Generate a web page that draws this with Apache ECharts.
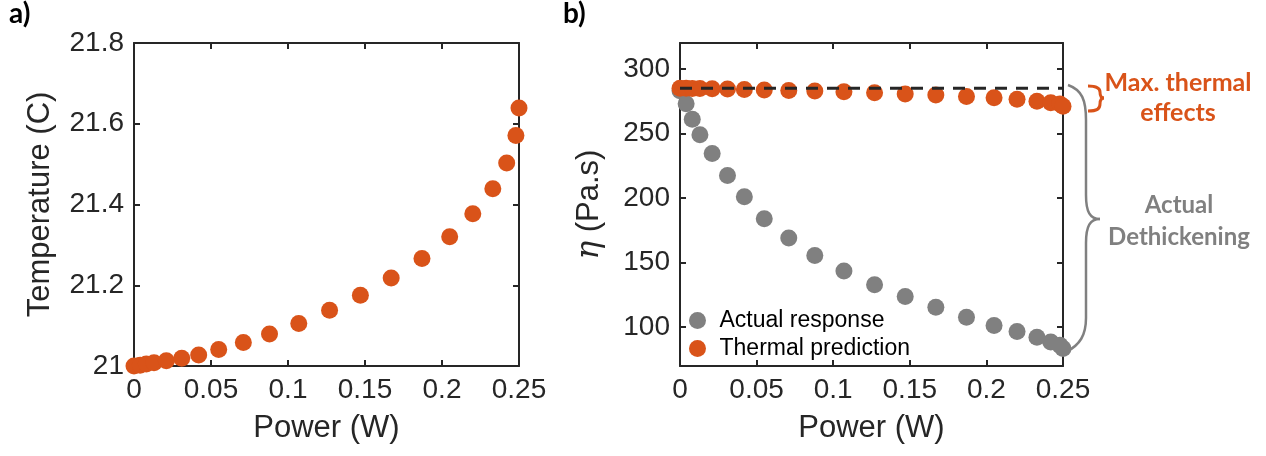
<!DOCTYPE html>
<html>
<head>
<meta charset="utf-8">
<script src="https://cdn.jsdelivr.net/npm/echarts@6.0.0/dist/echarts.min.js"></script>
<style>
  html, body { margin: 0; padding: 0; background: #fff; }
  #chart { width: 1266px; height: 456px; }
</style>
</head>
<body>
<div id="chart"></div>
<script>
// power steps shared by both panels (W)
const power = [0, 0.004, 0.008, 0.013, 0.021, 0.031, 0.042, 0.055, 0.071, 0.088, 0.107,
               0.127, 0.147, 0.167, 0.187, 0.205, 0.220, 0.233, 0.242, 0.248, 0.250];
// a) temperature (C)
const temperature = [21.0, 21.002, 21.005, 21.008, 21.013, 21.019, 21.027, 21.041, 21.058, 21.079, 21.105,
                     21.138, 21.175, 21.218, 21.266, 21.320, 21.377, 21.439, 21.503, 21.571, 21.639];
// b) viscosity (Pa.s)
const actualResponse = [283, 273, 261, 249, 234.5, 217.5, 201, 184, 169, 155.6, 143.6,
                        132.8, 123.8, 115.4, 107.7, 101.3, 96.7, 92.3, 88.5, 86, 83.5];
const thermalPrediction = [285, 284.9, 284.8, 284.7, 284.6, 284.4, 284.0, 283.6, 283.3, 282.8, 282.3,
                           281.5, 280.6, 279.7, 278.6, 277.6, 276.5, 275.0, 273.8, 272.8, 271.0];
const baselineVisc = 285;
const legendNames = ['Actual response', 'Thermal prediction'];
const powerTicks = [0, 0.05, 0.1, 0.15, 0.2, 0.25];
const tempTicks = [21, 21.2, 21.4, 21.6, 21.8];
const viscTicks = [100, 150, 200, 250, 300];

const ORANGE = '#D95319', GREY = '#808080', INK = '#262626';
const FONT = '"Liberation Sans", Arial, sans-serif';

const zip = (xs, ys) => xs.map((x, i) => [x, ys[i]]);

// common axis look: boxed, ticks inside
function axis(opts) {
    const mirror = opts.mirror;
    return Object.assign({
        type: 'value',
        axisLine: {show: true, onZero: false, lineStyle: {color: INK, width: 2}},
        axisTick: {show: true, inside: true, length: 6, lineStyle: {color: INK, width: 2},
                   customValues: opts.ticks},
        axisLabel: {show: !mirror, color: INK, fontSize: 28, fontFamily: FONT, margin: 10,
                    customValues: opts.ticks},
        splitLine: {show: false},
        nameTextStyle: {color: INK, fontSize: 31, fontFamily: FONT}
    }, opts.extra);
}

function xPair(gridIndex, name) {
    const base = {min: 0, max: 0.25, gridIndex: gridIndex};
    return [
        axis({ticks: powerTicks, extra: Object.assign({position: 'bottom', name: name,
            nameLocation: 'middle', nameGap: 47}, base)}),
        axis({ticks: powerTicks, mirror: true, extra: Object.assign({position: 'top'}, base)})
    ];
}

function yPair(gridIndex, min, max, ticks, name, gap, rich) {
    const base = {min: min, max: max, gridIndex: gridIndex};
    const nameStyle = {color: INK, fontSize: 31, fontFamily: FONT};
    if (rich) nameStyle.rich = rich;
    return [
        axis({ticks: ticks, extra: Object.assign({position: 'left', name: name, nameLocation: 'middle',
            nameGap: gap, nameRotate: 90, nameTextStyle: nameStyle}, base)}),
        axis({ticks: ticks, mirror: true, extra: Object.assign({position: 'right'}, base)})
    ];
}

// curly brace built from cubic segments: [x1,y1, cx1,cy1, cx2,cy2, x2,y2]
function brace(segs, color, width) {
    return segs.map(s => ({
        type: 'bezierCurve',
        shape: {x1: s[0], y1: s[1], cpx1: s[2], cpy1: s[3], cpx2: s[4], cpy2: s[5], x2: s[6], y2: s[7]},
        style: {fill: null, stroke: color, lineWidth: width}
    }));
}

function label(text, x, y, color, size) {
    return {type: 'text', x: x, y: y, style: {text: text, fontSize: size || 25, fontWeight: 'bold',
        fontFamily: 'Lato, sans-serif', fill: color, align: 'center', verticalAlign: 'middle'}};
}

const chart = echarts.init(document.getElementById('chart'), null, {renderer: 'canvas'});

chart.setOption({
    animation: false,
    backgroundColor: '#fff',
    grid: [
        {left: 134, top: 43, width: 385, height: 323},
        {left: 680, top: 43, width: 383, height: 323}
    ],
    xAxis: xPair(0, 'Power (W)').concat(xPair(1, 'Power (W)')),
    yAxis: yPair(0, 21, 21.8, tempTicks, 'Temperature (C)', 78)
        .concat(yPair(1, 70, 320, viscTicks, '{eta|η} (Pa.s)', 75, {
            eta: {fontFamily: '"DejaVu Serif", serif', fontStyle: 'italic', fontSize: 31, color: INK}
        })),
    legend: {
        data: legendNames,
        orient: 'vertical',
        left: 684,
        top: 304,
        itemWidth: 34,
        itemHeight: 17,
        itemGap: 5,
        icon: 'circle',
        textStyle: {color: '#000', fontSize: 23, fontFamily: FONT}
    },
    series: [
        {
            type: 'scatter', xAxisIndex: 0, yAxisIndex: 0,
            data: zip(power, temperature),
            symbolSize: 17, itemStyle: {color: ORANGE, opacity: 1}
        },
        {
            name: legendNames[0], type: 'scatter', xAxisIndex: 2, yAxisIndex: 2,
            data: zip(power, actualResponse),
            symbolSize: 17, itemStyle: {color: GREY, opacity: 1}
        },
        {
            name: legendNames[1], type: 'scatter', xAxisIndex: 2, yAxisIndex: 2,
            data: zip(power, thermalPrediction),
            symbolSize: 17, itemStyle: {color: ORANGE, opacity: 1}
        },
        {
            type: 'line', xAxisIndex: 2, yAxisIndex: 2, z: 5,
            data: [[0, baselineVisc], [0.25, baselineVisc]],
            symbol: 'none',
            lineStyle: {color: INK, width: 3, type: [12, 9]}
        }
    ],
    graphic: [
        {type: 'text', left: 9, top: 0, style: {text: 'a)', fontSize: 28, fontWeight: 'bold', fontFamily: 'Lato, sans-serif', fill: '#000'}},
        {type: 'text', left: 563, top: 0, style: {text: 'b)', fontSize: 28, fontWeight: 'bold', fontFamily: 'Lato, sans-serif', fill: '#000'}},
        label('Max. thermal', 1178, 83, ORANGE),
        label('effects', 1178, 113, ORANGE),
        label('Actual', 1179, 205, GREY, 24),
        label('Dethickening', 1179, 237, GREY, 24)
    ].concat(
        brace([
            [1088, 86, 1097, 86, 1100, 88, 1100, 92],
            [1100, 92, 1100, 96, 1101, 98, 1104, 98],
            [1104, 98, 1101, 98, 1100, 100, 1100, 104],
            [1100, 104, 1100, 109, 1097, 111, 1088, 111]
        ], ORANGE, 3),
        brace([
            [1068, 85, 1082, 90, 1086, 100, 1086, 120],
            [1086, 120, 1086, 145, 1086, 170, 1086, 195],
            [1086, 195, 1086, 212, 1090, 219, 1100, 219],
            [1100, 219, 1090, 219, 1086, 226, 1086, 243],
            [1086, 243, 1086, 268, 1086, 293, 1086, 318],
            [1086, 318, 1086, 335, 1080, 345, 1066, 352]
        ], GREY, 2.5)
    )
});
</script>
</body>
</html>
